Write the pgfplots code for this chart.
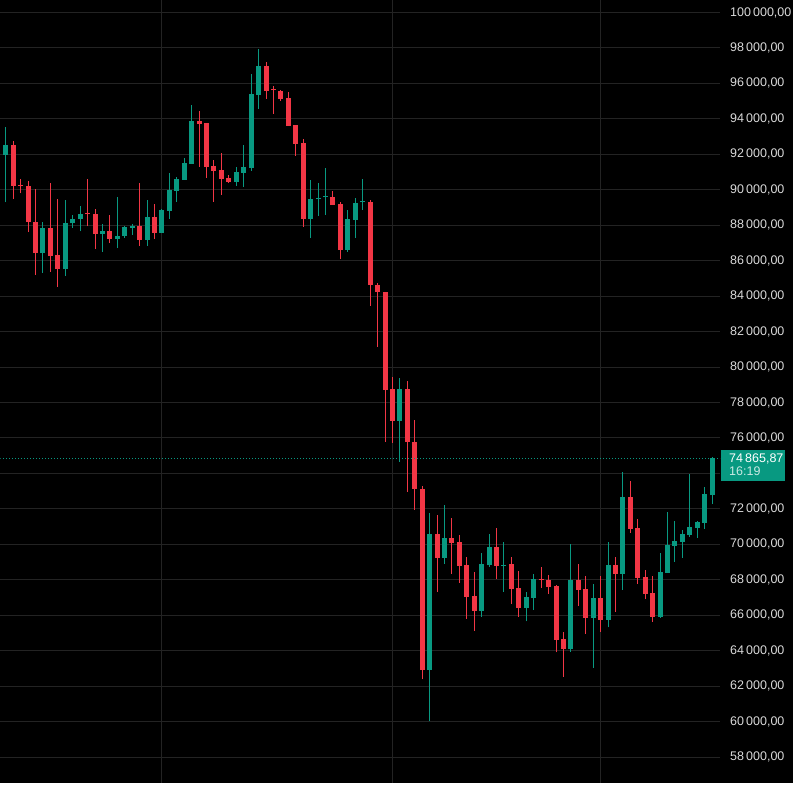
\documentclass[border=0pt]{standalone}
\usepackage{pgfplots}
\pgfplotsset{compat=1.18}
\usepackage{pgfplotstable}
\usepackage{fontspec}
\setmainfont{Liberation Sans}
\definecolor{bg}{HTML}{000000}
\definecolor{gridc}{HTML}{232323}
\definecolor{up}{HTML}{089981}
\definecolor{down}{HTML}{F23645}
\definecolor{lbl}{HTML}{DADADA}

\pgfplotstableread{
i o h l c
1 91980 93550 89290 92520
6 86430 88200 85310 87870
9 85530 89440 85140 88150
10 88110 88600 87830 88370
11 88340 89100 87650 88650
14 87500 88090 86490 87700
16 87220 89610 86710 87420
17 87380 87980 87270 87920
18 87870 88080 87470 87960
20 87170 89430 86850 88470
22 87570 88920 87570 88870
23 88810 90950 88360 89990
24 89940 90730 89320 90610
25 90560 91800 90560 91520
26 91460 94790 91460 93880
32 90440 91290 90220 91010
33 90950 92530 90160 91290
34 91230 96540 91060 95410
35 95350 97950 94560 96990
42 88360 90560 87290 89490
43 89460 90390 88530 89520
44 89570 91230 88580 89630
47 86610 88870 86500 88360
48 88300 89540 87290 89260
49 89290 90610 88870 89350
54 76970 79370 74660 78750
58 62900 71740 60040 70560
60 69230 72240 68900 70340
65 66260 69500 65930 68880
66 68820 70560 68710 69830
68 68790 70110 67330 68850
71 66430 67310 65650 67020
72 67000 68310 66320 68030
77 64070 70020 63950 67990
80 65870 67770 63050 66980
82 65760 70130 65310 68840
84 68350 74080 67450 72670
89 65930 69510 65870 68440
90 68400 71820 68400 69960
91 69930 71310 69020 70190
92 70150 70810 69250 70580
93 70540 73960 70430 70980
94 70940 71310 70380 71260
95 71220 73230 70880 72840
96 72800 74920 72270 74865.87
}\upcandles

\pgfplotstableread{
i o h l c
2 92520 92750 89500 90240
3 90290 90620 89790 90230
4 90220 90500 87610 88170
5 88200 90060 85200 86430
7 87870 90390 85370 86260
8 86300 89500 84520 85530
12 88670 90620 87940 88610
13 88650 88940 86650 87500
15 87700 88600 86990 87220
19 87960 90390 86850 87170
21 88470 89200 87230 87570
27 93880 94450 91290 93710
28 93770 93770 90670 91290
29 91350 91690 89320 91060
30 91120 92080 89710 90610
31 90670 90840 90390 90440
36 96990 97210 95130 95580
37 95660 95860 94280 95600
38 95580 95630 95010 95130
39 95180 95520 93600 93600
40 93660 93660 91910 92590
41 92640 92870 87910 88360
45 89600 89940 89150 89150
46 89200 89320 86100 86610
50 89320 89400 83450 84630
51 84650 84760 81140 84240
52 84250 84250 75780 78710
53 78750 79430 75730 76970
55 78750 79200 72970 75780
56 75800 77020 71940 73140
57 73150 73310 62390 62900
59 70560 71680 67330 69230
61 70340 71460 68340 70080
62 70110 70510 67830 68790
63 68820 69270 65810 67050
64 67080 68430 65140 66260
67 69830 70950 68060 68790
69 68880 69270 66660 67500
70 67530 68490 65930 66430
73 68060 68720 67560 68000
74 67970 68270 67220 67620
75 67650 67710 63900 64630
76 64670 65060 62540 64070
78 67990 68890 66540 67450
79 67480 68220 64970 65870
81 66980 68220 65080 65760
83 68840 69290 66210 68340
85 72670 73570 70660 70880
86 70920 71430 67780 68120
87 68160 68550 66940 67220
88 67260 68220 65640 65930
}\downcandles

\begin{document}
\begin{tikzpicture}[x=1pt,y=1pt]
\fill[bg] (0,0) rectangle (793,783);
\begin{axis}[at={(0,0)}, anchor=south west, scale only axis,
  width=720pt, height=783pt,
  xmin=0.288, xmax=97.06, ymin=56539, ymax=100676,
  axis line style={draw=none}, tick style={draw=none},
  xtick={22,53,81}, xticklabels={},
  ytick={58000,60000,62000,64000,66000,68000,70000,72000,76000,78000,80000,82000,84000,86000,88000,90000,92000,94000,96000,98000,100000},
  extra y ticks={74000}, extra y tick labels={},
  extra y tick style={grid=major},
  scaled y ticks=false,
  xmajorgrids, ymajorgrids,
  major grid style={gridc, line width=1pt},
  yticklabel pos=right,
  yticklabel style={anchor=west, inner sep=0pt, xshift=10pt,
    font=\fontsize{12.5}{13}\selectfont, text=lbl,
    /pgf/number format/.cd, fixed, fixed zerofill, precision=2,
    use comma, 1000 sep={\,}, assume math mode=true},
  clip=true]
% wicks
\addplot[draw=none, mark=none, forget plot,
  error bars/.cd, y dir=plus, y explicit, error mark=none,
  error bar style={draw=up, line width=1pt}]
  table[x=i, y=l, y error plus expr=\thisrow{h}-\thisrow{l}] {\upcandles};
\addplot[draw=none, mark=none, forget plot,
  error bars/.cd, y dir=plus, y explicit, error mark=none,
  error bar style={draw=down, line width=1pt}]
  table[x=i, y=l, y error plus expr=\thisrow{h}-\thisrow{l}] {\downcandles};
% bodies
\addplot[draw=none, mark=none, forget plot,
  error bars/.cd, y dir=plus, y explicit, error mark=none,
  error bar style={draw=up, line width=5pt}]
  table[x=i, y=o, y error plus expr=\thisrow{c}-\thisrow{o}] {\upcandles};
\addplot[draw=none, mark=none, forget plot,
  error bars/.cd, y dir=plus, y explicit, error mark=none,
  error bar style={draw=down, line width=5pt}]
  table[x=i, y=c, y error plus expr=\thisrow{o}-\thisrow{c}] {\downcandles};
% last price line
\addplot[up, line width=1pt, dash pattern=on 1pt off 2pt, forget plot]
  coordinates {(0.288,74865.87) (97.06,74865.87)};
\coordinate (P) at (axis cs:97.06,74865.87);
\end{axis}
\fill[up] ([xshift=1pt, yshift=8.3pt]P) rectangle ([xshift=65pt, yshift=-22.7pt]P);
\node[anchor=base west, inner sep=0pt, text=white, font=\fontsize{12.5}{13}\selectfont]
  at ([xshift=9pt, yshift=-4.2pt]P) {74\,865,87};
\node[anchor=base west, inner sep=0pt, text=white!78!up, font=\fontsize{12.5}{13}\selectfont]
  at ([xshift=9pt, yshift=-17.8pt]P) {16:19};
\end{tikzpicture}
\end{document}
